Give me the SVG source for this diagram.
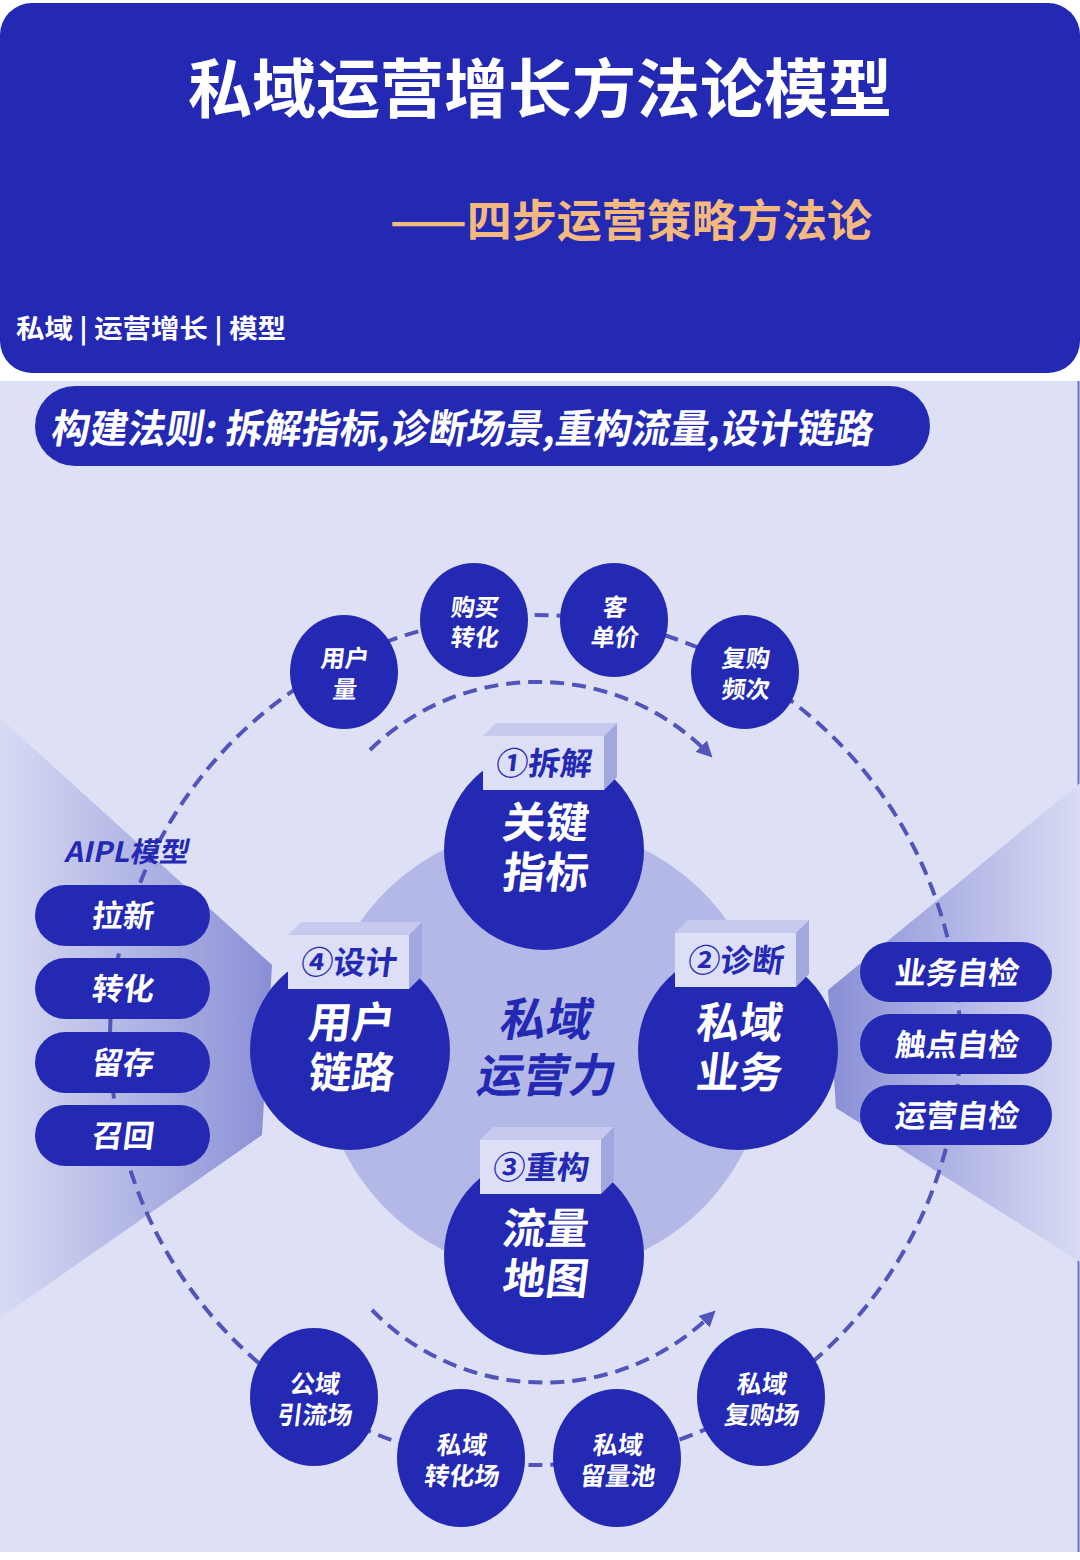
<svg xmlns="http://www.w3.org/2000/svg" width="1080" height="1560" viewBox="0 0 1080 1560">
<defs>
<style>
text{font-family:"Noto Sans CJK SC","Noto Sans",sans-serif;font-weight:700}
.blue{fill:#2429B4}
.w{fill:#fff}
.mid{text-anchor:middle}
.it{font-style:italic}
.big{font-size:43px}
.sm{font-size:24px}
.bt{font-size:25px}
.pill{font-size:31px}
.tagf{fill:#DCDFF6}
.tagt{fill:#C7CAEF}
.tags{fill:#A3A7E0}
.tagtx{fill:#2429B4;font-size:32px;text-anchor:middle}
.dash{fill:none;stroke:#5154B9;stroke-width:4;stroke-dasharray:14 8}
</style>
<linearGradient id="gl" gradientUnits="userSpaceOnUse" x1="0" y1="0" x2="272" y2="0">
<stop offset="0" stop-color="#D8DBF3"/>
<stop offset="1" stop-color="#8A8FD6"/>
</linearGradient>
<linearGradient id="gr" gradientUnits="userSpaceOnUse" x1="830" y1="0" x2="1080" y2="0">
<stop offset="0" stop-color="#8A8FD6"/>
<stop offset="1" stop-color="#D8DBF3"/>
</linearGradient>
<marker id="ah" viewBox="0 0 10 10" refX="6" refY="5" markerWidth="4" markerHeight="4" orient="auto">
<path d="M0,0 L10,5 L0,10 z" fill="#5154B9"/>
</marker>
</defs>

<rect x="0" y="0" width="1080" height="1560" fill="#FFFFFF"/>
<rect x="0" y="381" width="1080" height="1171" fill="#DEE1F5"/>
<line x1="1078.5" y1="381" x2="1078.5" y2="1552" stroke="#6F73C9" stroke-width="2"/>

<g id="header">
<rect x="0" y="3" width="1080" height="370" rx="32" fill="#2429B4"/>
<text class="w mid" x="540" y="112" font-size="64">私域运营增长方法论模型</text>
<text x="390" y="237" font-size="44" fill="#F4B97E" textLength="482" lengthAdjust="spacingAndGlyphs">——四步运营策略方法论</text>
<text class="w" x="16" y="338" font-size="26" textLength="270" lengthAdjust="spacingAndGlyphs">私域 | 运营增长 | 模型</text>
</g>

<g id="principle">
<rect x="35" y="386" width="895" height="80" rx="40" fill="#2429B4"/>
<text class="w" transform="translate(50,443) skewX(-9)" x="0" y="0" font-size="40" textLength="822" lengthAdjust="spacingAndGlyphs">构建法则: 拆解指标,诊断场景,重构流量,设计链路</text>
</g>

<g id="backdrop">
<polygon points="0,718 272,965 262,1135 0,1318" fill="url(#gl)"/>
<polygon points="828,990 1080,783 1080,1262 836,1108" fill="url(#gr)"/>
<circle cx="544" cy="1050" r="224" fill="#B4B8E7"/>
</g>

<g id="connectors">
<circle class="dash" cx="535" cy="1040" r="425"/>
<path class="dash" d="M370,750 A240,240 0 0 1 708,753" marker-end="url(#ah)"/>
<path class="dash" d="M372,1310 A240,240 0 0 0 711,1315" marker-end="url(#ah)"/>
</g>

<g id="node-yonghuliang">
<ellipse class="blue" cx="344" cy="672" rx="54" ry="57"/>
<text class="w mid sm" transform="translate(344,667) skewX(-7)">用户</text>
<text class="w mid sm" transform="translate(344,698) skewX(-7)">量</text>
</g>
<g id="node-goumaizhuanhua">
<ellipse class="blue" cx="474" cy="620" rx="54" ry="57"/>
<text class="w mid sm" transform="translate(474,616) skewX(-7)">购买</text>
<text class="w mid sm" transform="translate(474,646) skewX(-7)">转化</text>
</g>
<g id="node-kedanjia">
<ellipse class="blue" cx="614" cy="620" rx="54" ry="57"/>
<text class="w mid sm" transform="translate(614,616) skewX(-7)">客</text>
<text class="w mid sm" transform="translate(614,646) skewX(-7)">单价</text>
</g>
<g id="node-fugoupinci">
<ellipse class="blue" cx="745" cy="672" rx="54" ry="57"/>
<text class="w mid sm" transform="translate(745,667) skewX(-7)">复购</text>
<text class="w mid sm" transform="translate(745,698) skewX(-7)">频次</text>
</g>

<g id="node-guanjianzhibiao">
<circle class="blue" cx="544" cy="850" r="100"/>
<polygon class="tagt" points="483,736 496,723 617,723 604,736"/>
<polygon class="tags" points="604,736 617,723 617,777 604,790"/>
<rect class="tagf" x="483" y="736" width="121" height="54"/>
<text class="tagtx" transform="translate(543,775) skewX(-7)">①拆解</text>
<text class="w mid big" transform="translate(544,838) skewX(-7)">关键</text>
<text class="w mid big" transform="translate(544,888) skewX(-7)">指标</text>
</g>

<g id="node-yonghulianlu">
<circle class="blue" cx="350" cy="1050" r="100"/>
<polygon class="tagt" points="288,935 301,922 422,922 409,935"/>
<polygon class="tags" points="409,935 422,922 422,976 409,989"/>
<rect class="tagf" x="288" y="935" width="121" height="54"/>
<text class="tagtx" transform="translate(348,974) skewX(-7)">④设计</text>
<text class="w mid big" transform="translate(350,1038) skewX(-7)">用户</text>
<text class="w mid big" transform="translate(350,1088) skewX(-7)">链路</text>
</g>

<g id="node-siyuyewu">
<circle class="blue" cx="738" cy="1050" r="100"/>
<polygon class="tagt" points="675,933 688,920 809,920 796,933"/>
<polygon class="tags" points="796,933 809,920 809,974 796,987"/>
<rect class="tagf" x="675" y="933" width="121" height="54"/>
<text class="tagtx" transform="translate(735,972) skewX(-7)">②诊断</text>
<text class="w mid big" transform="translate(738,1038) skewX(-7)">私域</text>
<text class="w mid big" transform="translate(738,1088) skewX(-7)">业务</text>
</g>

<g id="node-liuliangditu">
<circle class="blue" cx="544" cy="1255" r="100"/>
<polygon class="tagt" points="480,1140 493,1127 614,1127 601,1140"/>
<polygon class="tags" points="601,1140 614,1127 614,1181 601,1194"/>
<rect class="tagf" x="480" y="1140" width="121" height="54"/>
<text class="tagtx" transform="translate(540,1179) skewX(-7)">③重构</text>
<text class="w mid big" transform="translate(544,1244) skewX(-7)">流量</text>
<text class="w mid big" transform="translate(544,1294) skewX(-7)">地图</text>
</g>

<g id="node-center">
<text class="blue mid" transform="translate(544,1036) skewX(-11)" font-size="46">私域</text>
<text class="blue mid" transform="translate(544,1092) skewX(-11)" font-size="46">运营力</text>
</g>

<g id="node-aipl">
<text class="blue" transform="translate(64,862) skewX(-12)" font-size="28" textLength="124" lengthAdjust="spacingAndGlyphs">AIPL模型</text>
<rect class="blue" x="35" y="885" width="175" height="61" rx="30.5"/>
<text class="w mid pill" transform="translate(122,927) skewX(-7)">拉新</text>
<rect class="blue" x="35" y="958" width="175" height="61" rx="30.5"/>
<text class="w mid pill" transform="translate(122,1000) skewX(-7)">转化</text>
<rect class="blue" x="35" y="1032" width="175" height="61" rx="30.5"/>
<text class="w mid pill" transform="translate(122,1074) skewX(-7)">留存</text>
<rect class="blue" x="35" y="1105" width="175" height="61" rx="30.5"/>
<text class="w mid pill" transform="translate(122,1147) skewX(-7)">召回</text>
</g>

<g id="node-selfcheck">
<rect class="blue" x="860" y="942" width="192" height="60" rx="30"/>
<text class="w mid" transform="translate(956,984) skewX(-7)" font-size="31">业务自检</text>
<rect class="blue" x="860" y="1014" width="192" height="60" rx="30"/>
<text class="w mid" transform="translate(956,1056) skewX(-7)" font-size="31">触点自检</text>
<rect class="blue" x="860" y="1085" width="192" height="60" rx="30"/>
<text class="w mid" transform="translate(956,1127) skewX(-7)" font-size="31">运营自检</text>
</g>

<g id="node-gongyuyinliuchang">
<ellipse class="blue" cx="314" cy="1397" rx="64" ry="69"/>
<text class="w mid bt" transform="translate(314,1393) skewX(-7)">公域</text>
<text class="w mid bt" transform="translate(314,1424) skewX(-7)">引流场</text>
</g>
<g id="node-siyuzhuanhuachang">
<ellipse class="blue" cx="461" cy="1458" rx="64" ry="69"/>
<text class="w mid bt" transform="translate(461,1454) skewX(-7)">私域</text>
<text class="w mid bt" transform="translate(461,1485) skewX(-7)">转化场</text>
</g>
<g id="node-siyuliuliangchi">
<ellipse class="blue" cx="617" cy="1458" rx="64" ry="69"/>
<text class="w mid bt" transform="translate(617,1454) skewX(-7)">私域</text>
<text class="w mid bt" transform="translate(617,1485) skewX(-7)">留量池</text>
</g>
<g id="node-siyufugouchang">
<ellipse class="blue" cx="761" cy="1397" rx="64" ry="69"/>
<text class="w mid bt" transform="translate(761,1393) skewX(-7)">私域</text>
<text class="w mid bt" transform="translate(761,1424) skewX(-7)">复购场</text>
</g>
</svg>
